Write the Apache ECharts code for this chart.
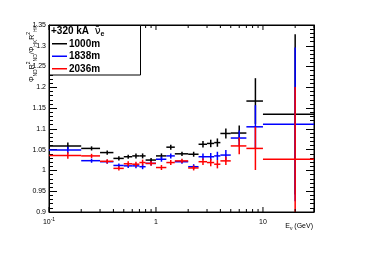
<!DOCTYPE html>
<html><head><meta charset="utf-8">
<script src="https://cdn.jsdelivr.net/npm/echarts@6/dist/echarts.min.js"></script>
<style>html,body{margin:0;padding:0;background:#fff}#c{width:374px;height:253px}</style>
</head><body><div id="c"></div>
<script>
// ---- data ----
const binEdges = [0.1,0.2,0.3,0.4,0.5,0.6,0.7,0.8,1.0,1.25,1.5,2.0,2.5,3.0,3.5,4.0,5.0,7.0,10.0,30.0];
const seriesNames = ['1000m','1838m','2036m'];
const ratio1000 = [1.059,1.053,1.043,1.029,1.033,1.035,1.035,1.025,1.035,1.056,1.040,1.039,1.063,1.065,1.067,1.089,1.090,1.167,1.135];
const err1000   = [0.008,0.005,0.005,0.005,0.005,0.006,0.006,0.005,0.006,0.006,0.005,0.006,0.008,0.009,0.010,0.012,0.018,0.055,0.193];
const ratio1838 = [1.049,1.0235,1.021,1.012,1.011,1.011,1.009,1.017,1.027,1.035,1.021,1.009,1.033,1.033,1.035,1.037,1.078,1.105,1.111];
const err1838   = [0.008,0.005,0.005,0.005,0.005,0.006,0.006,0.005,0.006,0.006,0.005,0.006,0.008,0.009,0.010,0.012,0.018,0.052,0.185];
const ratio2036 = [1.036,1.035,1.022,1.005,1.016,1.015,1.019,1.017,1.007,1.019,1.023,1.006,1.021,1.019,1.015,1.023,1.059,1.053,1.027];
const err2036   = [0.008,0.005,0.005,0.005,0.006,0.006,0.007,0.006,0.006,0.006,0.005,0.006,0.008,0.009,0.010,0.010,0.020,0.052,0.174];
const seriesColors = ['#000000','#0000ff','#ff0000'];
const xMajorTicks = [0.1, 1, 10];
const xMinorTicks = [0.2,0.3,0.4,0.5,0.6,0.7,0.8,0.9,2,3,4,5,6,7,8,9,20,30];
const yMin = 0.9, yMax = 1.35, yStep = 0.05;
const xMin = 0.1, xMax = 30;

const FONT = 'Liberation Sans, Arial, Helvetica, sans-serif';
const chart = echarts.init(document.getElementById('c'), null, {renderer:'canvas'});

function rows(vals, errs){
  return vals.map((v,i)=>[binEdges[i], binEdges[i+1], (binEdges[i]+binEdges[i+1])/2, v, errs[i]]);
}
function renderBins(params, api){
  const lo=api.value(0), hi=api.value(1), c=api.value(2), y=api.value(3), e=api.value(4);
  const a=api.coord([lo,y]), b=api.coord([hi,y]);
  const t=api.coord([c,y+e]), d=api.coord([c,y-e]);
  const st={stroke:api.visual('color'), lineWidth:1.5};
  return {type:'group', children:[
    {type:'line', shape:{x1:a[0],y1:a[1],x2:b[0],y2:b[1]}, style:st},
    {type:'line', shape:{x1:t[0],y1:t[1],x2:d[0],y2:d[1]}, style:st}
  ]};
}
function tickRender(len){
  return function(params, api){
    const v=api.value(0);
    const p=api.coord([v,yMin]), q=api.coord([v,yMax]);
    const st={stroke:'#000', lineWidth:1};
    return {type:'group', children:[
      {type:'line', shape:{x1:p[0],y1:p[1],x2:p[0],y2:p[1]-len}, style:st},
      {type:'line', shape:{x1:q[0],y1:q[1],x2:q[0],y2:q[1]+len}, style:st}
    ]};
  };
}
const allVals=[ratio1000,ratio1838,ratio2036], allErrs=[err1000,err1838,err2036];
const series = seriesNames.map((n,k)=>({
  name:n, type:'custom', xAxisIndex:0, yAxisIndex:0, clip:true, z:3,
  itemStyle:{color:seriesColors[k]},
  renderItem:renderBins, data:rows(allVals[k], allErrs[k]),
  encode:{x:[0,1,2], y:[3]}
}));
series.push({type:'custom', silent:true, clip:false, z:4, renderItem:tickRender(5), data:xMajorTicks.map(v=>[v]), encode:{x:0}});
series.push({type:'custom', silent:true, clip:false, z:4, renderItem:tickRender(3), data:xMinorTicks.map(v=>[v]), encode:{x:0}});

const yAxisBase = {
  type:'value', min:yMin, max:yMax, interval:yStep,
  axisLine:{show:true, lineStyle:{color:'#000', width:1}},
  axisTick:{show:true, inside:true, length:8, lineStyle:{color:'#000'}},
  minorTick:{show:true, splitNumber:5, length:4, lineStyle:{color:'#000'}},
  splitLine:{show:false}, minorSplitLine:{show:false}
};
const xAxisBase = {
  type:'log', logBase:10, min:xMin, max:xMax,
  axisLine:{show:true, lineStyle:{color:'#000', width:1}},
  axisTick:{show:false}, splitLine:{show:false}
};

chart.setOption({
  animation:false,
  grid:{left:49, top:25, width:265, height:187, show:true, borderColor:'#000', borderWidth:1, backgroundColor:'transparent'},
  xAxis:[
    Object.assign({}, xAxisBase, {position:'bottom',
      axisLabel:{show:true, margin:5, color:'#000', fontFamily:FONT, fontSize:7,
        showMinLabel:true, showMaxLabel:false,
        formatter:function(v){
          const l=Math.log10(v); const r=Math.round(l);
          if(Math.abs(l-r)>1e-6) return '';
          if(r<0) return '{b|10}{s|'+r+'}';
          return '{b|'+Math.pow(10,r)+'}';
        },
        rich:{b:{fontSize:7, fontFamily:FONT, color:'#000', lineHeight:10},
              s:{fontSize:5, fontFamily:FONT, color:'#000', verticalAlign:'top', lineHeight:10, padding:[0,0,4,0]}}
      }}),
    Object.assign({}, xAxisBase, {position:'top', axisLabel:{show:false}})
  ],
  yAxis:[
    Object.assign({}, yAxisBase, {position:'left',
      axisLabel:{show:true, margin:3, color:'#000', fontFamily:FONT, fontSize:7}}),
    Object.assign({}, yAxisBase, {position:'right', axisLabel:{show:false}})
  ],
  legend:{
    show:true, orient:'vertical', left:52, top:37.5, itemGap:0, z:30, padding:0,
    itemWidth:15, itemHeight:1.5, icon:'rect', itemStyle:{borderWidth:0},
    data:seriesNames,
    textStyle:{fontSize:10, fontWeight:'bold', fontFamily:FONT, color:'#000', lineHeight:12.5, padding:[0,0,0,-3]},
    selectedMode:false
  },
  graphic:[
    {type:'rect', z:20, shape:{x:49.5, y:25.5, width:91, height:49.5}, style:{fill:'#fff', stroke:'#000', lineWidth:1}},
    {type:'text', z:30, x:51, y:31.5, style:{
      text:'{a|+320 kA  }{n|ν\u0304}{e|e}', textVerticalAlign:'middle', textAlign:'left',
      rich:{a:{fontSize:10, fontWeight:'bold', fontFamily:FONT, fill:'#000', lineHeight:12},
            n:{fontSize:10.5, fontFamily:'DejaVu Sans, '+FONT, fill:'#000', lineHeight:12},
            e:{fontSize:7, fontWeight:'bold', fontFamily:FONT, fill:'#000', lineHeight:12, verticalAlign:'bottom'}}
    }},
    {type:'text', z:30, x:32, y:25, rotation:Math.PI/2, style:{
      text:'{a|Φ}{s|ND}{a|R}{p|2}{s|ND}{a|/Φ}{s|HK}{a|R}{p|2}{s|HK}', textAlign:'right', textVerticalAlign:'middle',
      rich:{a:{fontSize:7, fontFamily:FONT, fill:'#000', lineHeight:12},
            s:{fontSize:5, fontFamily:FONT, fill:'#000', lineHeight:12, verticalAlign:'bottom'},
            p:{fontSize:5, fontFamily:FONT, fill:'#000', lineHeight:12, verticalAlign:'top'}}
    }},
    {type:'text', z:30, x:313, y:226, style:{
      text:'{a|E}{s|ν}{a| (GeV)}', textAlign:'right', textVerticalAlign:'middle',
      rich:{a:{fontSize:7, fontFamily:FONT, fill:'#000', lineHeight:10},
            s:{fontSize:5, fontFamily:FONT, fill:'#000', lineHeight:10, verticalAlign:'bottom'}}
    }}
  ],
  series:series
});
</script></body></html>
